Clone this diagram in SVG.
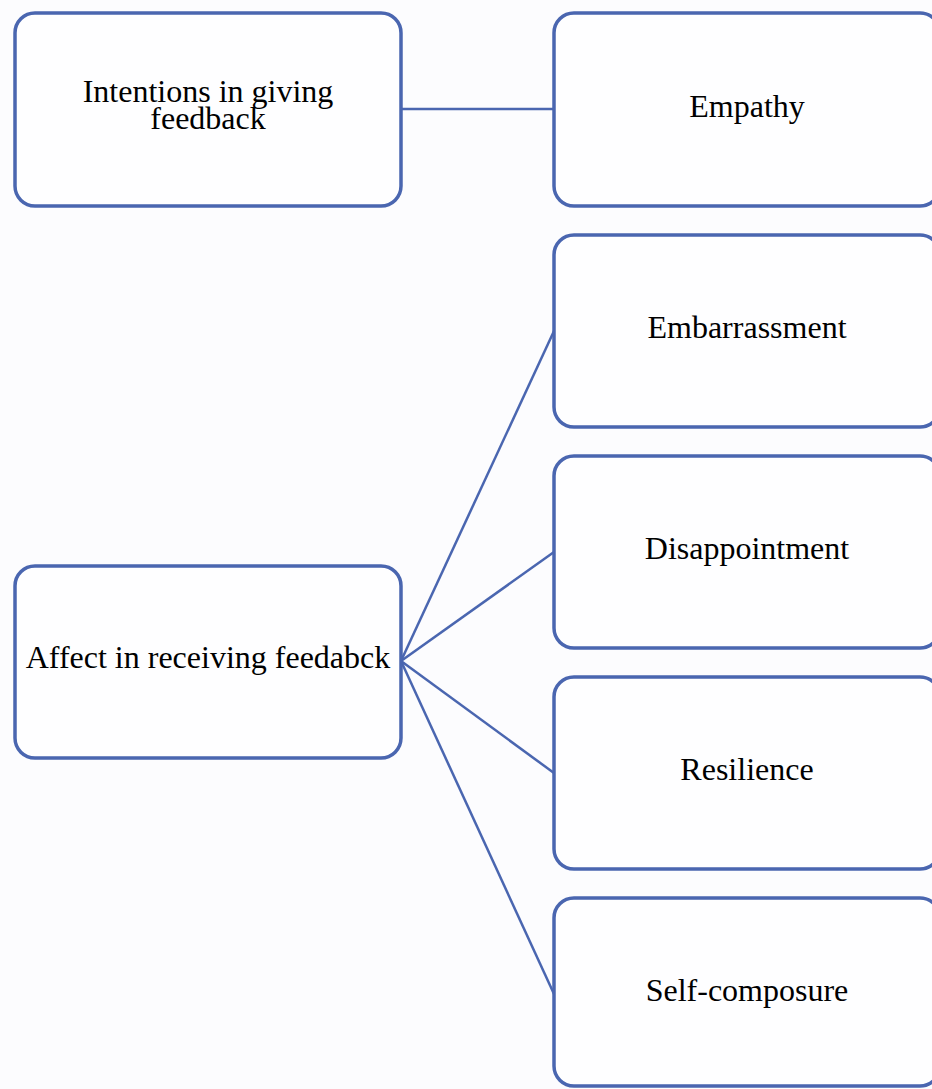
<svg xmlns="http://www.w3.org/2000/svg" width="932" height="1089" viewBox="0 0 932 1089">
<style>
.box{fill:#fefeff;stroke:#4a66b0;stroke-width:3.5}
.lbl{font-family:"Liberation Serif","Times New Roman",serif;font-size:32px;fill:#000;text-anchor:middle}
.con{stroke:#4a66b0;stroke-width:2.5;fill:none}
</style>
<rect width="932" height="1089" fill="#fcfcfe"/>
<g id="connectors">
<line class="con" x1="401" y1="109" x2="554" y2="109"/>
<line class="con" x1="401" y1="661" x2="554" y2="331"/>
<line class="con" x1="401" y1="661" x2="554" y2="552"/>
<line class="con" x1="401" y1="661" x2="554" y2="773"/>
<line class="con" x1="401" y1="661" x2="554" y2="994"/>
</g>
<g id="intentions">
<rect class="box" x="15" y="13" width="386" height="193" rx="20"/>
<text class="lbl" x="208" y="102">Intentions in giving</text>
<text class="lbl" x="208" y="129">feedback</text>
</g>
<g id="affect">
<rect class="box" x="15" y="566" width="386" height="192" rx="20"/>
<text class="lbl" x="208" y="668">Affect in receiving feedabck</text>
</g>
<g id="empathy">
<rect class="box" x="554" y="13" width="386" height="193" rx="20"/>
<text class="lbl" x="747" y="117">Empathy</text>
</g>
<g id="embarrassment">
<rect class="box" x="554" y="235" width="386" height="192" rx="20"/>
<text class="lbl" x="747" y="338">Embarrassment</text>
</g>
<g id="disappointment">
<rect class="box" x="554" y="456" width="386" height="192" rx="20"/>
<text class="lbl" x="747" y="559">Disappointment</text>
</g>
<g id="resilience">
<rect class="box" x="554" y="677" width="386" height="192" rx="20"/>
<text class="lbl" x="747" y="780">Resilience</text>
</g>
<g id="selfcomposure">
<rect class="box" x="554" y="898" width="386" height="188" rx="20"/>
<text class="lbl" x="747" y="1001">Self-composure</text>
</g>
</svg>
